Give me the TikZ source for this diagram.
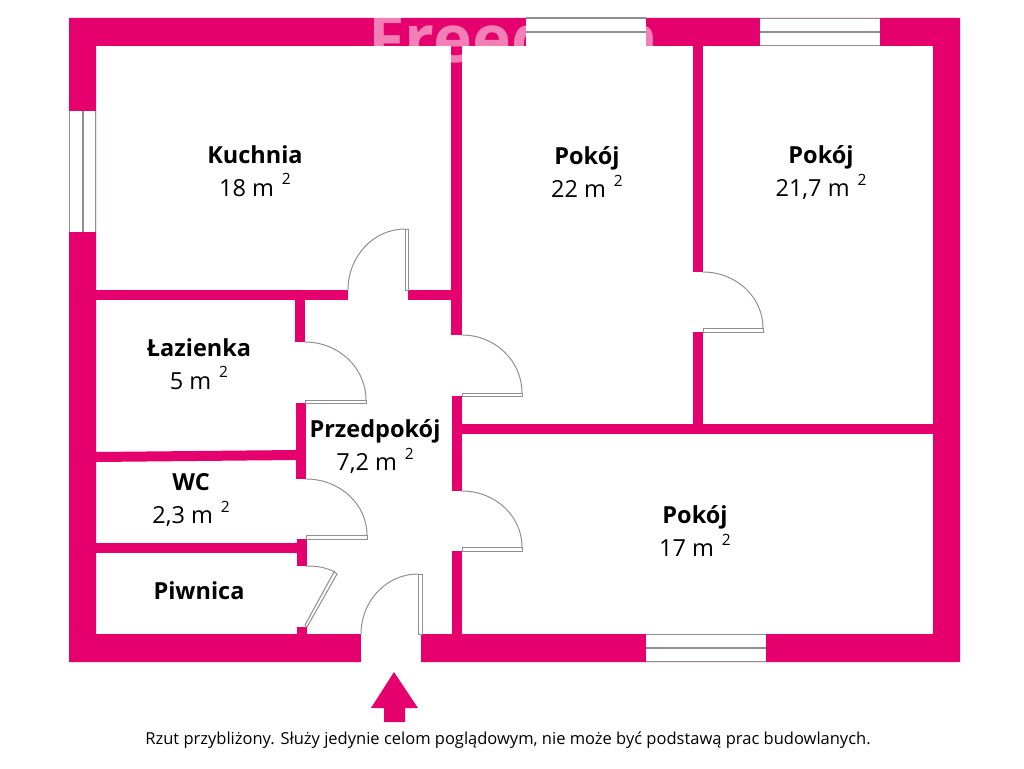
\documentclass[tikz,border=0pt]{standalone}
\usepackage{fontspec}
\setmainfont{Open Sans}
\usepackage{xcolor}
\usetikzlibrary{positioning}
\definecolor{wallpink}{HTML}{E5006D}
\definecolor{leafgray}{HTML}{8F8F8F}
\tikzset{%
  wall/.style={fill=wallpink,draw=none},
  window/.style={draw=leafgray,line width=1.2pt},
  leaf/.style={fill=white,draw=leafgray,line width=1pt},
  swing/.style={draw=leafgray,line width=1pt},
  room/.style={align=center,inner sep=0pt,text=black,font=\fontsize{23.5}{33}\selectfont},
  note/.style={inner sep=0pt,text=black,font=\fontsize{16.5}{18}\selectfont}
}
\newcommand{\sqm}[1]{#1 m\,\raisebox{0.9ex}{\fontsize{15.5}{16}\selectfont\hspace{4pt}2}}
\begin{document}
\begin{tikzpicture}[x=1pt,y=-1pt]
  \useasboundingbox (0,0) rectangle (1024,768);
  % outer walls
  \fill [wallpink,even odd rule] (69,18) rectangle (960,662) (96,46) rectangle (933,634);
  % inner walls
  \fill [wall] (451,46) rectangle (462,335);
  \fill [wall] (452,396) rectangle (462,491);
  \fill [wall] (452,551) rectangle (462,634);
  \fill [wall] (693,46) rectangle (703,272);
  \fill [wall] (693,332) rectangle (703,424);
  \fill [wall] (462,424) rectangle (933,434);
  \fill [wall] (96,290) rectangle (348,300);
  \fill [wall] (408,290) rectangle (452,300);
  \fill [wall] (295,300) rectangle (305,342);
  \fill [wall] (296,403) rectangle (306,479);
  \fill [wall] (297,539) rectangle (307,566);
  \fill [wall] (297,627) rectangle (307,634);
  \fill [wall] (96,452) -- (296,450) -- (296,460) -- (96,462) -- cycle;
  \fill [wall] (96,543) rectangle (297,553);
  % watermark
  \node (mark) [anchor=base west,inner sep=0pt,text=white,opacity=0.5,font=\bfseries\fontsize{66}{66}\selectfont] at (368,63) {Freedom};
  % windows
  \fill [white] (526,18) rectangle (646,46);
  \draw [window] (526,18) -- (646,18) (526,32) -- (646,32);
  \fill [white] (760,18) rectangle (880,46);
  \draw [window] (760,18.5) -- (880,18.5) (760,32) -- (880,32) (760,45.5) -- (880,45.5);
  \fill [white] (646,634) rectangle (766,662);
  \draw [window] (646,634.5) -- (766,634.5) (646,648) -- (766,648) (646,661.5) -- (766,661.5);
  \fill [white] (69,111) rectangle (96,232);
  \draw [window] (69.5,111) -- (69.5,232) (83,111) -- (83,232) (95.5,111) -- (95.5,232);
  % entrance
  \fill [white] (361,634) rectangle (421,663);
  % doors
  \draw [swing] (405,229) arc (-90:-180:57 and 61);
  \filldraw [leaf] (405,229) rectangle (408,290);
  \draw [swing] (305,342) arc (-90:0:61 and 58);
  \filldraw [leaf] (305,400) rectangle (366,403);
  \draw [swing] (462,335) arc (-90:0:60 and 58);
  \filldraw [leaf] (462,393) rectangle (522,396);
  \draw [swing] (306,479) arc (-90:0:61 and 56);
  \filldraw [leaf] (306,535) rectangle (367,539);
  \draw [swing] (462,491) arc (-90:0:60 and 56);
  \filldraw [leaf] (462,547) rectangle (522,551);
  \draw [swing] (703,272) arc (-90:0:60 and 56);
  \filldraw [leaf] (703,328) rectangle (763,332);
  \draw [swing] (306,566) to [out=0,in=155] (335,572);
  \filldraw [leaf] (305,625) -- (334,572) -- (337,574) -- (307,627) -- cycle;
  \draw [swing] (418,574) arc (-90:-180:57 and 60);
  \filldraw [leaf] (418,574) rectangle (422,634);
  % entrance arrow
  \fill [wall] (394,672) -- (418,708) -- (405,708) -- (405,722) -- (384,722) -- (384,708) -- (371,708) -- cycle;
  % rooms
  \node (kuchnia) [room] at (255,171) {\textbf{Kuchnia}\\\sqm{18}};
  \node (pokoj1) [room] at (587,172) {\textbf{Pokój}\\\sqm{22}};
  \node (pokoj2) [room] at (821,173) {\textbf{Pokój}\\\sqm{21,7}};
  \node (lazienka) [room] at (199,364) {\textbf{Łazienka}\\\sqm{5}};
  \node (przedpokoj) [room] at (375,447) {\textbf{Przedpokój}\\\sqm{7,2}};
  \node (wc) [room] at (191,500) {\textbf{WC}\\\sqm{2,3}};
  \node (piwnica) [room] at (199,591) {\textbf{Piwnica}};
  \node (pokoj3) [room] at (695,531) {\textbf{Pokój}\\\sqm{17}};
  \node (note) [note] at (508,740) {Rzut przybliżony. Służy jedynie celom poglądowym, nie może być podstawą prac budowlanych.};
\end{tikzpicture}
\end{document}
